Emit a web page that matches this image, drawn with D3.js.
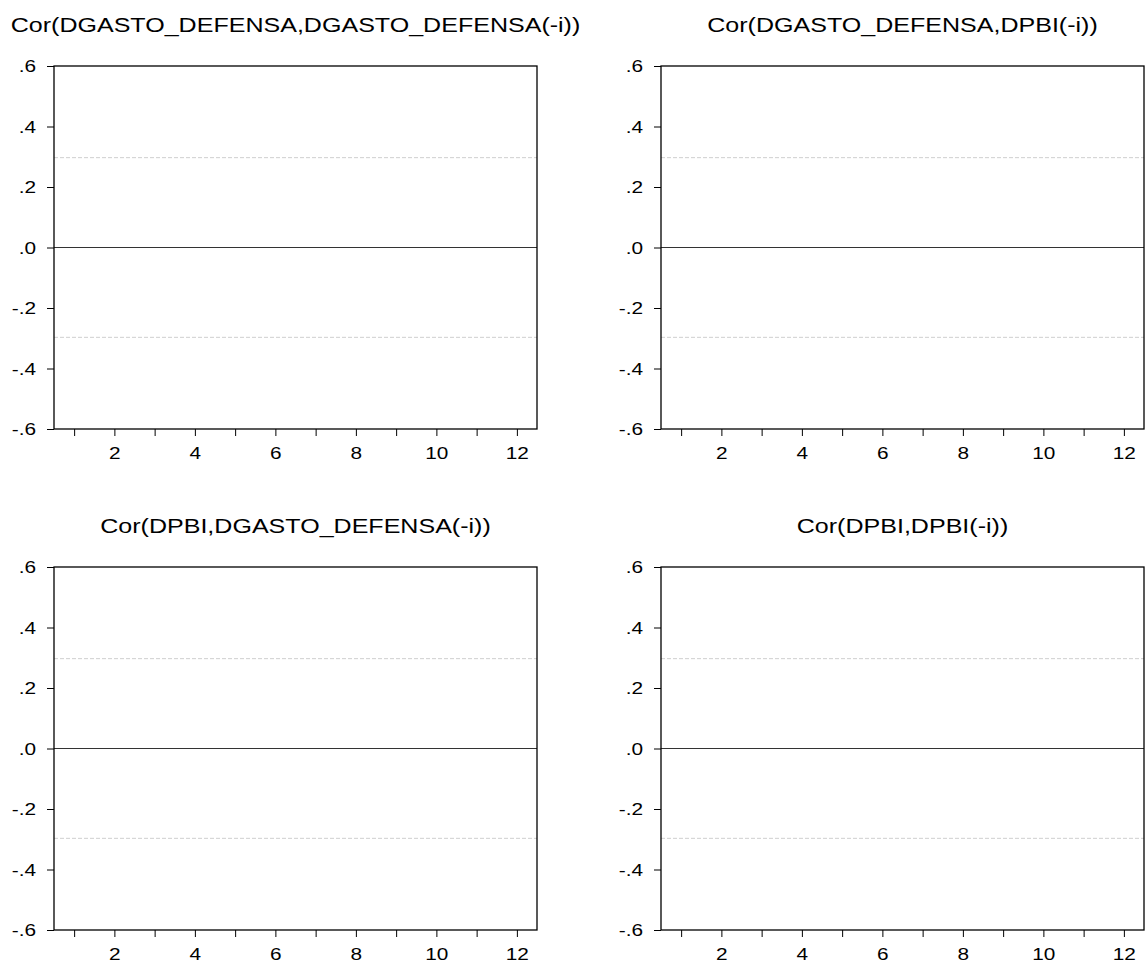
<!DOCTYPE html>
<html>
<head>
<meta charset="utf-8">
<script src="https://cdn.jsdelivr.net/npm/d3@7"></script>
<style>
  body { margin: 0; background: #fff; }
  svg text { font-family: "Liberation Sans", Arial, sans-serif; fill: #000; }
</style>
</head>
<body>
<div id="chart"></div>
<script>
// Cross-correlogram, 4 panels (EViews style)

// lags shown on the x axis
var lags = [1, 2, 3, 4, 5, 6, 7, 8, 9, 10, 11, 12];
var xTickLabels = [2, 4, 6, 8, 10, 12];
var yTicks = [0.6, 0.4, 0.2, 0.0, -0.2, -0.4, -0.6];
var yTickLabels = [".6", ".4", ".2", ".0", "-.2", "-.4", "-.6"];

// panel titles
var titles = [
    "Cor(DGASTO_DEFENSA,DGASTO_DEFENSA(-i))",
    "Cor(DGASTO_DEFENSA,DPBI(-i))",
    "Cor(DPBI,DGASTO_DEFENSA(-i))",
    "Cor(DPBI,DPBI(-i))"
];

// correlation values per lag (no bars are drawn in the reference)
var corr11 = [];
var corr12 = [];
var corr21 = [];
var corr22 = [];
var series = [corr11, corr12, corr21, corr22];

// approx. 2 standard error band
var band = 0.297;

var W = 1145, H = 964;
var plotW = 483, plotH = 363;
var stretch = 1.24;   // the picture's text is wider than normal

var panels = [
    {x: 54, y: 66},
    {x: 661, y: 66},
    {x: 54, y: 567},
    {x: 661, y: 567}
];

var svg = d3.select("#chart").append("svg")
    .attr("width", W)
    .attr("height", H);

var x = d3.scaleLinear().domain([0.5, 12.5]).range([0, plotW]);
var y = d3.scaleLinear().domain([-0.6, 0.6]).range([plotH, 0]);

panels.forEach(function(p, i) {
    var g = svg.append("g")
        .attr("transform", "translate(" + p.x + "," + p.y + ")");

    // title
    g.append("text")
        .attr("transform", "translate(" + (plotW / 2) + ",-34) scale(" + stretch + ",1)")
        .attr("text-anchor", "middle")
        .style("font-size", "20.2px")
        .text(titles[i]);

    // band lines
    [band, -band].forEach(function(b) {
        g.append("line")
            .attr("x1", 0).attr("x2", plotW)
            .attr("y1", y(b)).attr("y2", y(b))
            .attr("stroke", "#cfcfcf")
            .attr("stroke-width", 1)
            .attr("stroke-dasharray", "4,2");
    });

    // zero line
    g.append("line")
        .attr("x1", 0).attr("x2", plotW)
        .attr("y1", y(0)).attr("y2", y(0))
        .attr("stroke", "#333")
        .attr("stroke-width", 1);

    // bars (empty in this picture)
    g.selectAll("rect.bar")
        .data(series[i])
        .enter().append("rect")
        .attr("class", "bar")
        .attr("x", function(d, j) { return x(lags[j]) - 10; })
        .attr("width", 20)
        .attr("y", function(d) { return y(Math.max(0, d)); })
        .attr("height", function(d) { return Math.abs(y(d) - y(0)); })
        .attr("fill", "#2b4c9b");

    // y axis
    var yAxis = g.append("g")
        .call(d3.axisLeft(y)
            .tickValues(yTicks)
            .tickSize(7)
            .tickFormat(function(d, j) { return yTickLabels[j]; }));
    yAxis.select(".domain").remove();
    yAxis.selectAll("line").attr("stroke", "#000");
    yAxis.selectAll("text")
        .attr("x", null).attr("dy", null)
        .attr("transform", "translate(-18,0) scale(" + stretch + ",1)")
        .attr("dominant-baseline", "central")
        .style("font-size", "16.8px");

    // x axis
    var xAxis = g.append("g")
        .attr("transform", "translate(0," + plotH + ")")
        .call(d3.axisBottom(x)
            .tickValues(lags)
            .tickSize(7)
            .tickFormat(function(d) { return xTickLabels.indexOf(d) >= 0 ? d : ""; }));
    xAxis.select(".domain").remove();
    xAxis.selectAll("line").attr("stroke", "#000");
    xAxis.selectAll("text")
        .attr("y", null).attr("dy", null)
        .attr("transform", "translate(0,30) scale(" + stretch + ",1)")
        .style("font-size", "16.8px");

    // frame
    g.append("rect")
        .attr("x", 0).attr("y", 0)
        .attr("width", plotW).attr("height", plotH)
        .attr("fill", "none")
        .attr("stroke", "#000")
        .attr("stroke-width", 1.3);
});
</script>
</body>
</html>
